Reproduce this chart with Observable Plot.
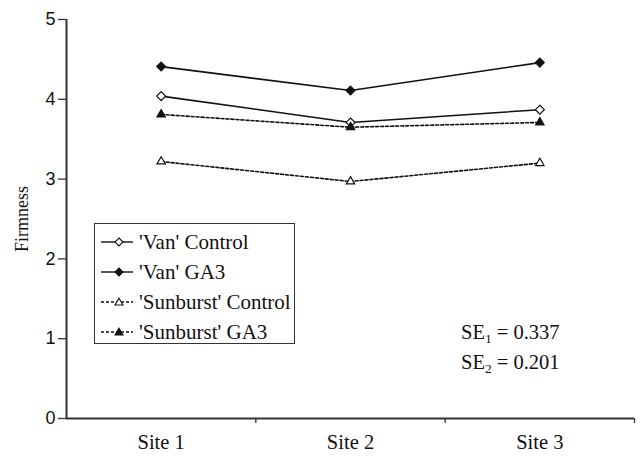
<!DOCTYPE html>
<html><head><meta charset="utf-8">
<script src="https://cdn.jsdelivr.net/npm/d3@7"></script>
<script src="https://cdn.jsdelivr.net/npm/@observablehq/plot@0.6"></script>
<style>
body{margin:0;background:#fff;}
#wrap{position:relative;width:640px;height:458px;font-family:"Liberation Serif","Times New Roman",serif;color:#111;}
#legend{position:absolute;left:94px;top:223px;width:199px;height:119px;border:1.5px solid #333;background:#fff;}
.row{position:absolute;left:0;height:30px;display:flex;align-items:center;font-size:21px;white-space:nowrap;}
.row svg{margin-left:5px;margin-right:5px;}
#se{position:absolute;left:461px;top:317px;font-size:20.5px;line-height:30px;}
#se sub{font-size:13.5px;vertical-align:-4px;line-height:0;}
</style></head>
<body><div id="wrap"></div>
<script>
const sites = ["Site 1", "Site 2", "Site 3"];
const seriesNames = ["'Van' Control", "'Van' GA3", "'Sunburst' Control", "'Sunburst' GA3"];
const vanControl = [4.04, 3.71, 3.87];
const vanGA3 = [4.41, 4.11, 4.46];
const sunburstControl = [3.22, 2.97, 3.20];
const sunburstGA3 = [3.81, 3.65, 3.71];
const yTicks = [0, 1, 2, 3, 4, 5];
const seLabels = [["SE", "1", " = 0.337"], ["SE", "2", " = 0.201"]];

const styles = {
  "'Van' Control": {symbol: "diamond2", fill: "white", dash: null},
  "'Van' GA3": {symbol: "diamond2", fill: "#111", dash: null},
  "'Sunburst' Control": {symbol: "triangle2", fill: "white", dash: "3,2"},
  "'Sunburst' GA3": {symbol: "triangle2", fill: "#111", dash: "3,2"}
};
const valuesBy = [vanControl, vanGA3, sunburstControl, sunburstGA3];
const rows = [];
seriesNames.forEach((s, k) => valuesBy[k].forEach((v, i) => rows.push({series: s, site: i + 1, value: v})));

const marks = [];
for (const s of seriesNames) {
  const d = rows.filter(r => r.series === s);
  marks.push(Plot.line(d, {x: "site", y: "value", stroke: "#111", strokeWidth: 1.6, strokeDasharray: styles[s].dash}));
}
for (const s of seriesNames) {
  const d = rows.filter(r => r.series === s);
  marks.push(Plot.dot(d, {x: "site", y: "value", symbol: () => styles[s].symbol, r: 4, stroke: "#111", strokeWidth: 1.2, fill: styles[s].fill}));
}

const chart = Plot.plot({
  width: 640, height: 458,
  marginLeft: 66, marginRight: 6, marginTop: 19, marginBottom: 40,
  style: {background: "#fff", color: "#111"},
  symbol: {type: "identity"},
  x: {type: "linear", domain: [0.5, 3.5]},
  y: {domain: [0, 5]},
  marks: [
    Plot.axisY({ticks: yTicks, tickSize: 8, tickPadding: 3, tickFormat: d => d, label: null, stroke: "#333", strokeWidth: 1.3}),
    Plot.axisX({ticks: [1.5, 2.5, 3.5], tickSize: 5, tickFormat: () => "", label: null, stroke: "#333", strokeWidth: 1.3}),
    Plot.axisX({ticks: [1, 2, 3], tickSize: 0, tickPadding: 16, tickFormat: i => sites[i - 1], label: null}),
    Plot.ruleX([0.5], {stroke: "#333", strokeWidth: 2}),
    Plot.ruleY([0], {stroke: "#333", strokeWidth: 2}),
    Plot.text(["Firmness"], {frameAnchor: "left", textAnchor: "middle", dx: -44, rotate: -90, fill: "#111"}),
    ...marks
  ]
});

const wrap = document.getElementById("wrap");
wrap.appendChild(chart);
const svg = d3.select(chart);
svg.selectAll('g[aria-label="y-axis tick label"] text').style("font-size", "18px").style("font-family", '"Liberation Sans", Arial, sans-serif');
svg.selectAll('g[aria-label="x-axis tick label"] text').style("font-size", "20.5px").style("font-family", '"Liberation Serif", "Times New Roman", serif');
svg.selectAll('g[aria-label="text"] text').style("font-size", "18px").style("font-family", '"Liberation Serif", "Times New Roman", serif');

// legend
const legend = document.createElement("div");
legend.id = "legend";
seriesNames.forEach((s, k) => {
  const row = document.createElement("div");
  row.className = "row";
  row.style.top = (3 + 30 * k) + "px";
  const st = styles[s];
  const sym = st.symbol === "diamond2"
    ? `<path d="M19,-4 L23,0 L19,4 L15,0 Z" transform="translate(0,7)" fill="${st.fill}" stroke="#111" stroke-width="1.1"/>`
    : `<path d="M19,-3.8 L23,3 L15,3 Z" transform="translate(0,7)" fill="${st.fill}" stroke="#111" stroke-width="1.1"/>`;
  row.innerHTML = `<svg width="34" height="14"><line x1="1" x2="33" y1="7" y2="7" stroke="#111" stroke-width="1.4" ${st.dash ? `stroke-dasharray="${st.dash}"` : ""}/>${sym}</svg><span>${s}</span>`;
  legend.appendChild(row);
});
wrap.appendChild(legend);

const se = document.createElement("div");
se.id = "se";
se.innerHTML = seLabels.map(([a, b, c]) => `<div>${a}<sub>${b}</sub>${c}</div>`).join("");
wrap.appendChild(se);
</script>
</body></html>
